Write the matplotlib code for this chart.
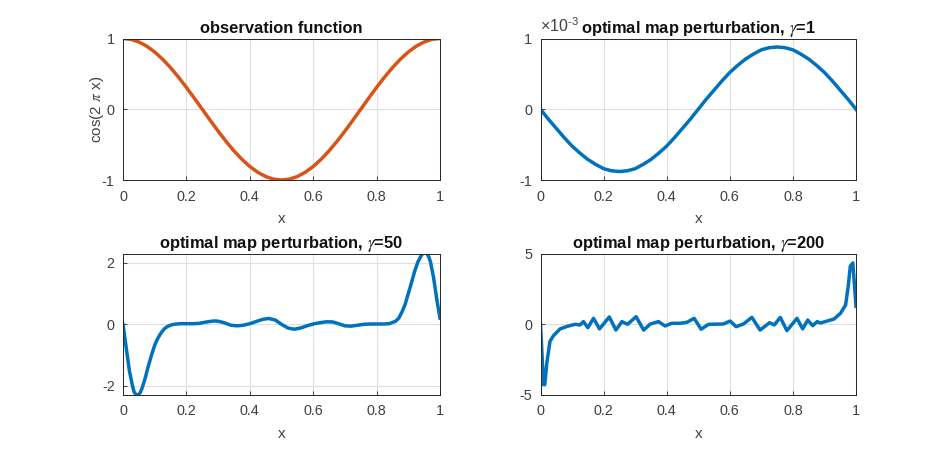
import matplotlib
matplotlib.use("Agg")
import matplotlib.pyplot as plt

plt.rcParams["font.family"] = ["Liberation Sans", "DejaVu Sans"]
plt.rcParams["mathtext.fontset"] = "custom"
plt.rcParams["mathtext.rm"] = "Liberation Sans"
plt.rcParams["mathtext.it"] = "STIXGeneral:italic"
plt.rcParams["mathtext.bf"] = "Liberation Sans:bold"
plt.rcParams["axes.unicode_minus"] = False

BLUE = "#0072BD"
ORANGE = "#D95319"
DARK = "#262626"
GRAY = "#404040"

x_ticks = [0, 0.2, 0.4, 0.6, 0.8, 1]
x_tick_labels = ["0", "0.2", "0.4", "0.6", "0.8", "1"]

# observation function
obs_x = [0, 0.025, 0.05, 0.075, 0.1, 0.125, 0.15, 0.175, 0.2, 0.225, 0.25, 0.275, 0.3, 0.325, 0.35, 0.375, 0.4,
         0.425, 0.45, 0.475, 0.5, 0.525, 0.55, 0.575, 0.6, 0.625, 0.65, 0.675, 0.7, 0.725, 0.75, 0.775, 0.8,
         0.825, 0.85, 0.875, 0.9, 0.925, 0.95, 0.975, 1]
obs_y = [1, 0.988, 0.951, 0.891, 0.809, 0.707, 0.588, 0.454, 0.309, 0.156, 0, -0.156, -0.309, -0.454, -0.588,
         -0.707, -0.809, -0.891, -0.951, -0.988, -1, -0.988, -0.951, -0.891, -0.809, -0.707, -0.588, -0.454,
         -0.309, -0.156, 0, 0.156, 0.309, 0.454, 0.588, 0.707, 0.809, 0.891, 0.951, 0.988, 1]

# gamma = 1, values in units of 1e-3
g1_x = obs_x
g1_y = [0, -0.14, -0.27, -0.40, -0.52, -0.62, -0.71, -0.78, -0.84, -0.87, -0.88, -0.87, -0.84, -0.78, -0.71,
        -0.62, -0.52, -0.40, -0.27, -0.14, 0, 0.14, 0.27, 0.40, 0.52, 0.62, 0.71, 0.78, 0.84, 0.87, 0.88,
        0.87, 0.84, 0.78, 0.71, 0.62, 0.52, 0.40, 0.27, 0.14, 0]

# gamma = 50
g50_x = [0, 0.01, 0.02, 0.03, 0.035, 0.04, 0.045, 0.05, 0.055, 0.06, 0.07, 0.08, 0.09, 0.10, 0.11, 0.12, 0.13,
         0.14, 0.15, 0.16, 0.18, 0.20, 0.22, 0.24, 0.26, 0.28, 0.29, 0.30, 0.32, 0.34, 0.36, 0.38, 0.40, 0.42,
         0.44, 0.46, 0.48, 0.50, 0.52, 0.54, 0.56, 0.58, 0.60, 0.62, 0.64, 0.66, 0.68, 0.70, 0.72, 0.74, 0.76,
         0.78, 0.80, 0.82, 0.84, 0.86, 0.87, 0.88, 0.89, 0.90, 0.91, 0.92, 0.93, 0.94, 0.945, 0.95, 0.955, 0.96,
         0.965, 0.97, 0.98, 0.99, 1]
g50_y = [0, -0.75, -1.5, -2.0, -2.2, -2.27, -2.3, -2.28, -2.2, -2.08, -1.75, -1.35, -1.0, -0.68, -0.45, -0.28,
         -0.15, -0.07, -0.03, 0, 0.02, 0.02, 0.02, 0.03, 0.07, 0.1, 0.11, 0.1, 0.05, -0.03, -0.05, -0.03, 0.02,
         0.09, 0.16, 0.19, 0.14, 0, -0.12, -0.16, -0.12, -0.05, 0.01, 0.05, 0.08, 0.08, 0.02, -0.05, -0.06, -0.03,
         0, 0.01, 0.01, 0.01, 0.02, 0.1, 0.2, 0.4, 0.65, 1.0, 1.35, 1.72, 2.02, 2.22, 2.29, 2.33, 2.33, 2.28,
         2.18, 2.03, 1.5, 0.8, 0.2]

# gamma = 200
g200_x = [0, 0.0095, 0.0135, 0.02, 0.03, 0.041, 0.062, 0.084, 0.11, 0.125, 0.136, 0.150, 0.168, 0.187, 0.218,
          0.239, 0.258, 0.276, 0.303, 0.327, 0.348, 0.374, 0.395, 0.416, 0.443, 0.464, 0.487, 0.509, 0.533,
          0.580, 0.601, 0.620, 0.643, 0.670, 0.696, 0.726, 0.741, 0.760, 0.781, 0.813, 0.831, 0.847, 0.863,
          0.877, 0.887, 0.930, 0.951, 0.967, 0.975, 0.982, 0.99, 1]
g200_y = [0, -4.3, -4.3, -2.77, -1.23, -0.83, -0.35, -0.17, -0.02, -0.07, 0.17, -0.26, 0.40, -0.35, 0.5,
          -0.43, 0.17, -0.02, 0.52, -0.43, 0, 0.17, -0.14, 0.05, 0.05, 0.12, 0.4, -0.37, -0.02,
          0, 0.21, -0.19, 0, 0.47, -0.43, 0.09, -0.07, 0.47, -0.47, 0.4, -0.35, 0.28, -0.12,
          0.17, 0.07, 0.35, 0.76, 1.35, 2.6, 4.1, 4.33, 1.25]


def setup(ax, title, yticks, ylim):
    ax.set_xlim(0, 1)
    ax.set_ylim(*ylim)
    ax.set_xticks(x_ticks)
    ax.set_xticklabels(x_tick_labels)
    ax.set_yticks(yticks)
    ax.set_yticklabels([str(t) for t in yticks])
    ax.grid(True, color="#dfdfdf", lw=0.8)
    ax.set_axisbelow(True)
    ax.tick_params(direction="in", length=3, width=0.6, color=DARK, labelcolor=GRAY, labelsize=10.4)
    ax.tick_params(axis="x", pad=7)
    ax.tick_params(axis="y", pad=6)
    ax.set_xlabel("x", fontsize=11, color=GRAY, labelpad=6)
    ax.set_title(title, fontsize=11.9, fontweight="bold", color="#111111", pad=4)
    for s in ax.spines.values():
        s.set_linewidth(0.7)
        s.set_color(DARK)


W, H = 946, 453
fig = plt.figure(figsize=(W / 100, H / 100), dpi=100)


def make_axes(left, top, right, bottom):
    return fig.add_axes([left / W, 1 - bottom / H, (right - left) / W, (bottom - top) / H])


ax1 = make_axes(123, 38.5, 440, 180)
ax1.plot(obs_x, obs_y, color=ORANGE, lw=2.5)
setup(ax1, "observation function", [-1, 0, 1], (-1, 1))
ax1.set_ylabel(r"cos(2 $\pi$ x)", fontsize=11, color=GRAY, labelpad=-3)

ax2 = make_axes(540.5, 38.5, 856, 180)
ax2.plot(g1_x, g1_y, color=BLUE, lw=2.5)
setup(ax2, r"optimal map perturbation, $\gamma$=1", [-1, 0, 1], (-1, 1))
ax2.text(0, 1.03, r"$\times$10$^{\mathrm{\text{-}3}}$", transform=ax2.transAxes, fontsize=11.5, color=GRAY,
         ha="left", va="bottom")

ax3 = make_axes(123, 253.5, 440, 394.5)
ax3.plot(g50_x, g50_y, color=BLUE, lw=2.5)
setup(ax3, r"optimal map perturbation, $\gamma$=50", [-2, 0, 2], (-2.28, 2.3))

ax4 = make_axes(540.5, 253.5, 856, 394.5)
ax4.plot(g200_x, g200_y, color=BLUE, lw=2.5)
setup(ax4, r"optimal map perturbation, $\gamma$=200", [-5, 0, 5], (-5, 5))

fig.savefig("out.png", dpi=100)
